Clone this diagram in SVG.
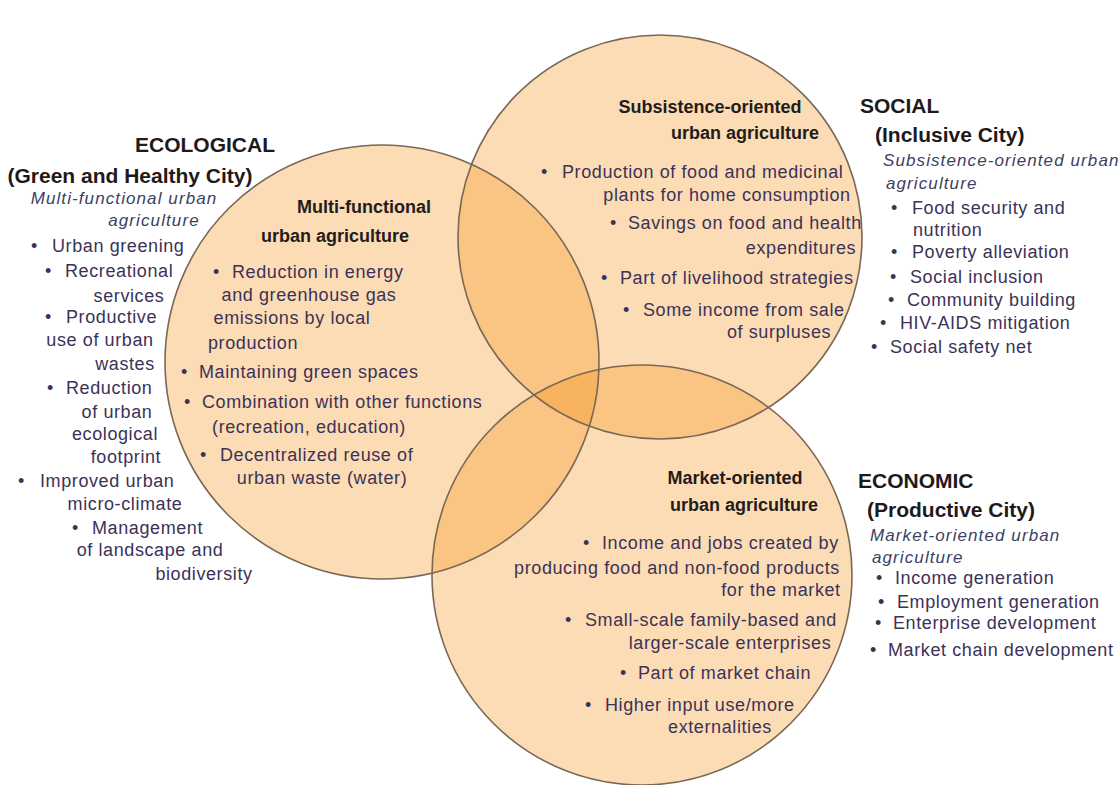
<svg xmlns="http://www.w3.org/2000/svg" width="1120" height="785" viewBox="0 0 1120 785">
<style>
.fill{fill:rgb(245,144,19);fill-opacity:0.314;stroke:none}
.ring{fill:none;stroke:#7a6856;stroke-width:1.6}
text{font-family:"Liberation Sans",Arial,sans-serif}
.h{font-size:21px;font-weight:bold;fill:#1f1a1a}
.t{font-size:18px;font-weight:bold;fill:#231c1c}
.b{font-size:18px;letter-spacing:0.6px;fill:#3b3258}
.i{font-size:17px;font-style:italic;letter-spacing:1.1px;fill:#3c3f62}
.m{text-anchor:middle}
</style>
<rect width="1120" height="785" fill="#ffffff"/>
<g id="circles">
<circle class="fill" cx="382" cy="362" r="217"/>
<circle class="fill" cx="660" cy="237" r="202"/>
<circle class="fill" cx="642" cy="575" r="210"/>
<circle class="ring" cx="382" cy="362" r="217"/>
<circle class="ring" cx="660" cy="237" r="202"/>
<circle class="ring" cx="642" cy="575" r="210"/>
</g>
<g id="connectors"></g>

<g id="ecological">
<text class="h m" x="205" y="152">ECOLOGICAL</text>
<text class="h m" x="130" y="183">(Green and Healthy City)</text>
<text class="i m" x="124" y="204">Multi-functional urban</text>
<text class="i m" x="154" y="226">agriculture</text>
<text class="b" y="252"><tspan x="31">•</tspan><tspan x="52">Urban greening</tspan></text>
<text class="b" y="277"><tspan x="45">•</tspan><tspan x="65">Recreational</tspan></text>
<text class="b m" x="129" y="302">services</text>
<text class="b" y="323"><tspan x="45">•</tspan><tspan x="66">Productive</tspan></text>
<text class="b m" x="100" y="346">use of urban</text>
<text class="b m" x="125" y="370">wastes</text>
<text class="b" y="394"><tspan x="47">•</tspan><tspan x="66">Reduction</tspan></text>
<text class="b m" x="117" y="418">of urban</text>
<text class="b m" x="115" y="440">ecological</text>
<text class="b m" x="126" y="463">footprint</text>
<text class="b" y="487"><tspan x="18">•</tspan><tspan x="40">Improved urban</tspan></text>
<text class="b m" x="125" y="510">micro-climate</text>
<text class="b" y="534"><tspan x="72">•</tspan><tspan x="92">Management</tspan></text>
<text class="b m" x="150" y="556">of landscape and</text>
<text class="b m" x="204" y="580">biodiversity</text>
</g>

<g id="multifunctional">
<text class="t m" x="364" y="213">Multi-functional</text>
<text class="t m" x="335" y="242">urban agriculture</text>
<text class="b" y="278"><tspan x="213">•</tspan><tspan x="232">Reduction in energy</tspan></text>
<text class="b m" x="309" y="301">and greenhouse gas</text>
<text class="b m" x="292" y="324">emissions by local</text>
<text class="b m" x="253" y="349">production</text>
<text class="b" y="378"><tspan x="181">•</tspan><tspan x="199">Maintaining green spaces</tspan></text>
<text class="b" y="408"><tspan x="184">•</tspan><tspan x="202">Combination with other functions</tspan></text>
<text class="b m" x="309" y="433">(recreation, education)</text>
<text class="b" y="461"><tspan x="200">•</tspan><tspan x="220">Decentralized reuse of</tspan></text>
<text class="b m" x="322" y="484">urban waste (water)</text>
</g>

<g id="subsistence">
<text class="t m" x="710" y="113">Subsistence-oriented</text>
<text class="t m" x="745" y="139">urban agriculture</text>
<text class="b" y="178"><tspan x="541">•</tspan><tspan x="562">Production of food and medicinal</tspan></text>
<text class="b m" x="727" y="201">plants for home consumption</text>
<text class="b" y="229"><tspan x="610">•</tspan><tspan x="628">Savings on food and health</tspan></text>
<text class="b m" x="801" y="254">expenditures</text>
<text class="b" y="284"><tspan x="601">•</tspan><tspan x="620">Part of livelihood strategies</tspan></text>
<text class="b" y="316"><tspan x="623">•</tspan><tspan x="643">Some income from sale</tspan></text>
<text class="b m" x="779" y="338">of surpluses</text>
</g>

<g id="social">
<text class="h" x="860" y="113">SOCIAL</text>
<text class="h" x="875" y="142">(Inclusive City)</text>
<text class="i" x="883" y="166">Subsistence-oriented urban</text>
<text class="i" x="886" y="189">agriculture</text>
<text class="b" y="214"><tspan x="891">•</tspan><tspan x="912">Food security and</tspan></text>
<text class="b" x="913" y="236">nutrition</text>
<text class="b" y="258"><tspan x="891">•</tspan><tspan x="912">Poverty alleviation</tspan></text>
<text class="b" y="283"><tspan x="890">•</tspan><tspan x="910">Social inclusion</tspan></text>
<text class="b" y="306"><tspan x="888">•</tspan><tspan x="907">Community building</tspan></text>
<text class="b" y="329"><tspan x="880">•</tspan><tspan x="900">HIV-AIDS mitigation</tspan></text>
<text class="b" y="353"><tspan x="871">•</tspan><tspan x="890">Social safety net</tspan></text>
</g>

<g id="market">
<text class="t m" x="735" y="484">Market-oriented</text>
<text class="t m" x="744" y="511">urban agriculture</text>
<text class="b" y="549"><tspan x="583">•</tspan><tspan x="602">Income and jobs created by</tspan></text>
<text class="b m" x="677" y="574">producing food and non-food products</text>
<text class="b m" x="781" y="596">for the market</text>
<text class="b" y="626"><tspan x="565">•</tspan><tspan x="585">Small-scale family-based and</tspan></text>
<text class="b m" x="730" y="649">larger-scale enterprises</text>
<text class="b" y="679"><tspan x="620">•</tspan><tspan x="638">Part of market chain</tspan></text>
<text class="b" y="711"><tspan x="585">•</tspan><tspan x="605">Higher input use/more</tspan></text>
<text class="b m" x="720" y="733">externalities</text>
</g>

<g id="economic">
<text class="h" x="858" y="488">ECONOMIC</text>
<text class="h" x="867" y="517">(Productive City)</text>
<text class="i" x="870" y="541">Market-oriented urban</text>
<text class="i" x="872" y="563">agriculture</text>
<text class="b" y="584"><tspan x="876">•</tspan><tspan x="895">Income generation</tspan></text>
<text class="b" y="608"><tspan x="878">•</tspan><tspan x="897">Employment generation</tspan></text>
<text class="b" y="629"><tspan x="875">•</tspan><tspan x="893">Enterprise development</tspan></text>
<text class="b" y="656"><tspan x="870">•</tspan><tspan x="888">Market chain development</tspan></text>
</g>
</svg>
